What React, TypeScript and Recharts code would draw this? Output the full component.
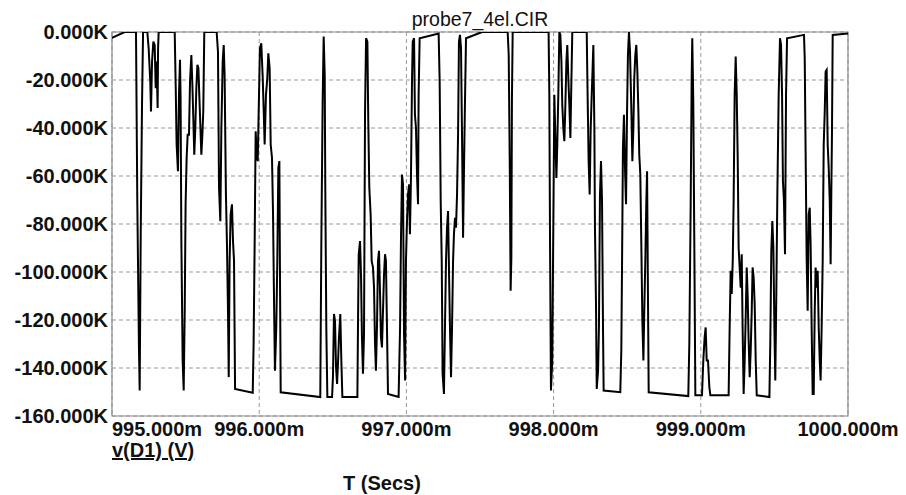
import React from 'react';
import { LineChart, Line, XAxis, YAxis, CartesianGrid, ReferenceArea } from 'recharts';

// time in ms, voltage in kV, rows line up 1:1
const timeMs = [
  995.000, 995.086, 995.163, 995.172, 995.183, 995.188, 995.195, 995.204, 995.211, 995.240,
  995.249, 995.260, 995.265, 995.272, 995.281, 995.290, 995.297, 995.303, 995.310, 995.313,
  995.317, 995.426, 995.433, 995.439, 995.448, 995.455, 995.462, 995.466, 995.471, 995.480,
  995.487, 995.494, 995.500, 995.507, 995.514, 995.523, 995.530, 995.539, 995.546, 995.553,
  995.559, 995.566, 995.573, 995.580, 995.587, 995.593, 995.600, 995.607, 995.614, 995.620,
  995.627, 995.711, 995.720, 995.727, 995.736, 995.743, 995.752, 995.759, 995.765, 995.774,
  995.781, 995.788, 995.793, 995.799, 995.806, 995.815, 995.822, 995.829, 995.836, 995.956,
  995.962, 995.969, 995.976, 995.983, 995.990, 995.996, 996.005, 996.014, 996.024, 996.030,
  996.037, 996.046, 996.055, 996.062, 996.071, 996.078, 996.087, 996.094, 996.101, 996.107,
  996.116, 996.123, 996.130, 996.137, 996.141, 996.146, 996.415, 996.422, 996.431, 996.438,
  996.445, 996.449, 996.456, 996.463, 996.495, 996.501, 996.508, 996.515, 996.522, 996.529,
  996.535, 996.542, 996.551, 996.558, 996.565, 996.667, 996.671, 996.676, 996.685, 996.692,
  996.698, 996.705, 996.712, 996.719, 996.726, 996.735, 996.741, 996.748, 996.757, 996.764,
  996.773, 996.780, 996.787, 996.793, 996.800, 996.807, 996.814, 996.821, 996.827, 996.834,
  996.841, 996.848, 996.855, 996.861, 996.868, 996.875, 996.947, 996.957, 996.963, 996.970,
  996.977, 996.984, 996.991, 996.997, 997.004, 997.011, 997.018, 997.024, 997.031, 997.038,
  997.043, 997.052, 997.058, 997.065, 997.072, 997.079, 997.083, 997.090, 997.219, 997.226,
  997.233, 997.240, 997.246, 997.255, 997.262, 997.269, 997.276, 997.283, 997.289, 997.296,
  997.303, 997.310, 997.317, 997.323, 997.330, 997.337, 997.344, 997.351, 997.357, 997.364,
  997.371, 997.378, 997.385, 997.391, 997.398, 997.405, 997.514, 997.688, 997.695, 997.702,
  997.708, 997.713, 997.717, 997.722, 997.966, 997.971, 997.976, 997.982, 997.991, 997.998,
  998.005, 998.012, 998.019, 998.025, 998.032, 998.039, 998.046, 998.053, 998.059, 998.066,
  998.073, 998.080, 998.087, 998.093, 998.100, 998.107, 998.114, 998.120, 998.127, 998.225,
  998.231, 998.238, 998.245, 998.252, 998.259, 998.265, 998.270, 998.277, 998.281, 998.288,
  998.293, 998.302, 998.308, 998.315, 998.322, 998.329, 998.336, 998.340, 998.453, 998.460,
  998.467, 998.471, 998.478, 998.485, 998.492, 998.499, 998.505, 998.512, 998.519, 998.528,
  998.535, 998.542, 998.548, 998.555, 998.562, 998.569, 998.576, 998.582, 998.589, 998.596,
  998.603, 998.610, 998.616, 998.623, 998.630, 998.635, 998.641, 998.646, 998.915, 998.922,
  998.931, 998.938, 998.942, 998.949, 998.956, 998.963, 999.008, 999.017, 999.026, 999.033,
  999.040, 999.049, 999.058, 999.065, 999.189, 999.196, 999.203, 999.210, 999.217, 999.223,
  999.230, 999.237, 999.244, 999.251, 999.257, 999.264, 999.271, 999.278, 999.284, 999.291,
  999.298, 999.305, 999.312, 999.318, 999.325, 999.332, 999.339, 999.346, 999.352, 999.359,
  999.366, 999.373, 999.380, 999.466, 999.472, 999.479, 999.486, 999.493, 999.500, 999.506,
  999.513, 999.520, 999.529, 999.538, 999.545, 999.552, 999.558, 999.565, 999.572, 999.579,
  999.586, 999.701, 999.706, 999.712, 999.719, 999.726, 999.733, 999.740, 999.746, 999.753,
  999.760, 999.767, 999.774, 999.780, 999.787, 999.794, 999.801, 999.808, 999.814, 999.821,
  999.828, 999.835, 999.842, 999.848, 999.855, 999.862, 999.869, 999.876, 999.882, 999.887,
  999.891, 999.896, 1000.000,
];

const voltK = [
  -2.4, 0, 0, -71.2, -131.4, -149.4, -85.0, -29.6, 0, 0,
  -6.8, -20.6, -33.1, -12.3, -4.0, -5.4, -23.4, -12.3, -31.7, -6.8,
  0, 0, -23.4, -46.9, -58.0, -26.2, -11.6, -27.5, -85.7, -136.9,
  -149.4, -116.1, -71.8, -52.5, -42.8, -42.8, -20.6, -9.6, -22.0, -37.2,
  -51.1, -40.0, -23.4, -13.7, -15.1, -26.2, -38.6, -51.1, -42.8, -33.1,
  0, 0, -8.2, -64.9, -78.8, -40.0, -12.3, -5.4, -17.9, -67.7,
  -88.5, -116.1, -143.8, -95.4, -76.0, -71.8, -87.1, -95.4, -148.7, -150.3,
  -130.0, -88.5, -41.4, -51.1, -53.8, -34.5, -6.8, -4.7, -19.2, -31.7,
  -46.9, -26.2, -19.2, -8.9, -15.1, -46.9, -52.5, -76.0, -113.4, -141.1,
  -123.1, -95.4, -56.6, -53.8, -99.5, -150.1, -152.1, -88.5, -28.9, -1.9,
  -17.9, -64.9, -123.8, -152.1, -152.1, -143.8, -117.5, -120.3, -139.7, -146.6,
  -138.3, -127.2, -117.5, -136.9, -152.1, -152.1, -123.1, -92.6, -87.1, -102.3,
  -127.2, -142.4, -125.8, -33.1, -2.6, -4.0, -37.2, -64.9, -76.0, -95.4,
  -98.1, -106.5, -130.0, -141.1, -123.1, -95.4, -91.2, -109.2, -127.2, -131.4,
  -116.1, -100.9, -92.6, -95.4, -123.1, -150.8, -152.1, -123.1, -87.1, -59.4,
  -63.5, -125.8, -145.2, -95.4, -78.8, -67.7, -63.5, -84.3, -60.8, -20.6,
  -4.0, -2.6, -34.5, -40.0, -59.4, -71.8, -26.2, -2.6, -0.6, -20.6,
  -70.5, -95.4, -142.4, -150.8, -123.1, -95.4, -81.5, -74.6, -98.1, -123.1,
  -143.8, -123.1, -95.4, -84.3, -77.4, -81.5, -67.7, -42.8, -4.0, -1.2,
  -6.8, -44.2, -85.7, -58.0, -28.9, -2.6, 0, 0, -9.6, -53.8,
  -107.8, -94.0, -27.5, 0, 0, -26.2, -89.8, -149.4, -136.9, -81.5,
  -26.2, -44.2, -60.8, -46.9, -26.2, 0, -1.2, -12.3, -30.3, -40.0,
  -45.5, -30.3, -12.3, -5.4, -19.2, -30.3, -44.2, -23.4, 0, 0,
  -26.2, -53.8, -67.7, -40.0, -26.2, -15.1, -5.4, -40.0, -81.5, -113.4,
  -148.7, -141.1, -123.1, -67.7, -53.8, -70.5, -125.8, -149.4, -150.1, -132.8,
  -81.5, -48.3, -34.5, -56.6, -71.8, -33.1, -9.6, 0, -8.2, -31.7,
  -53.8, -40.0, -19.2, -9.6, -5.4, -16.5, -33.1, -51.1, -59.4, -88.5,
  -120.3, -136.9, -116.1, -95.4, -70.5, -58.0, -109.2, -150.1, -151.7, -130.0,
  -73.2, -19.2, -2.6, -28.9, -88.5, -151.4, -151.4, -136.9, -127.2, -123.1,
  -136.9, -136.9, -148.0, -151.4, -151.4, -123.1, -99.5, -109.2, -95.4, -70.5,
  -26.2, -10.2, -26.2, -53.8, -89.8, -98.1, -106.5, -92.6, -123.1, -150.8,
  -136.9, -118.9, -98.1, -109.2, -128.6, -143.8, -132.8, -116.1, -98.1, -102.3,
  -113.4, -136.9, -151.4, -152.1, -130.0, -91.2, -78.8, -89.8, -123.1, -145.2,
  -109.2, -67.7, -26.2, -2.6, -5.4, -26.2, -62.2, -70.5, -92.6, -26.2,
  -2.6, -1.2, -10.9, -49.7, -94.0, -116.1, -76.0, -73.2, -88.5, -123.1,
  -150.8, -150.8, -116.1, -98.1, -106.5, -99.5, -123.1, -136.9, -145.2, -123.1,
  -95.4, -46.9, -33.1, -16.5, -15.8, -46.9, -56.6, -70.5, -96.8, -64.9,
  -42.8, -1.2, -0.6,
];

const xTicks = [995, 996, 997, 998, 999, 1000];
const yTicks = [-160, -140, -120, -100, -80, -60, -40, -20, 0];

const data = timeMs.map((t, i) => ({ t, v: voltK[i] }));

const FONT = '"Liberation Sans", Arial, Helvetica, sans-serif';

const XTick = (props: any) => {
  const { x, y, payload } = props;
  const first = payload.value === xTicks[0];
  return (
    <text x={x} y={y} dy={20} textAnchor={first ? 'start' : 'middle'} fill="#111" fontSize={20} fontWeight="bold" fontFamily={FONT}>
      {payload.value.toFixed(3) + 'm'}
    </text>
  );
};

export default function App() {
  return (
    <div style={{ position: 'absolute', left: 0, top: 0, width: 906, height: 495, background: '#fff' }}>
      <LineChart width={906} height={495} data={data} margin={{ top: 32, right: 58, bottom: 39, left: 0 }}>
        <CartesianGrid stroke="#999" strokeDasharray="4 3" />
        <XAxis
          type="number"
          dataKey="t"
          domain={[995, 1000]}
          ticks={xTicks}
          interval={0}
          height={40}
          tickSize={0}
          tickMargin={0}
          axisLine={false}
          tickLine={false}
          tick={<XTick />}
          allowDataOverflow
        />
        <YAxis
          type="number"
          domain={[-160, 0]}
          ticks={yTicks}
          interval={0}
          width={112}
          tickSize={0}
          tickMargin={4}
          axisLine={false}
          tickLine={false}
          tickFormatter={(v: number) => v.toFixed(3) + 'K'}
          tick={{ fill: '#111', fontSize: 20, fontWeight: 'bold', fontFamily: FONT }}
          allowDataOverflow
        />
        <ReferenceArea x1={995} x2={1000} y1={-160} y2={0} fill="none" stroke="#8a8a8a" strokeWidth={1.2} />
        <Line type="linear" dataKey="v" stroke="#000" strokeWidth={2} dot={false} isAnimationActive={false} />
      </LineChart>
      <svg width={906} height={495} style={{ position: 'absolute', left: 0, top: 0, pointerEvents: 'none' }}>
        <text x={480} y={26} textAnchor="middle" fill="#111" fontSize={19.5} fontFamily={FONT}>probe7_4el.CIR</text>
        <text x={112} y={457} fill="#111" fontSize={20} fontWeight="bold" fontFamily={FONT} textDecoration="underline">v(D1) (V)</text>
        <text x={343} y={490} fill="#111" fontSize={20} fontWeight="bold" fontFamily={FONT}>T (Secs)</text>
      </svg>
    </div>
  );
}
